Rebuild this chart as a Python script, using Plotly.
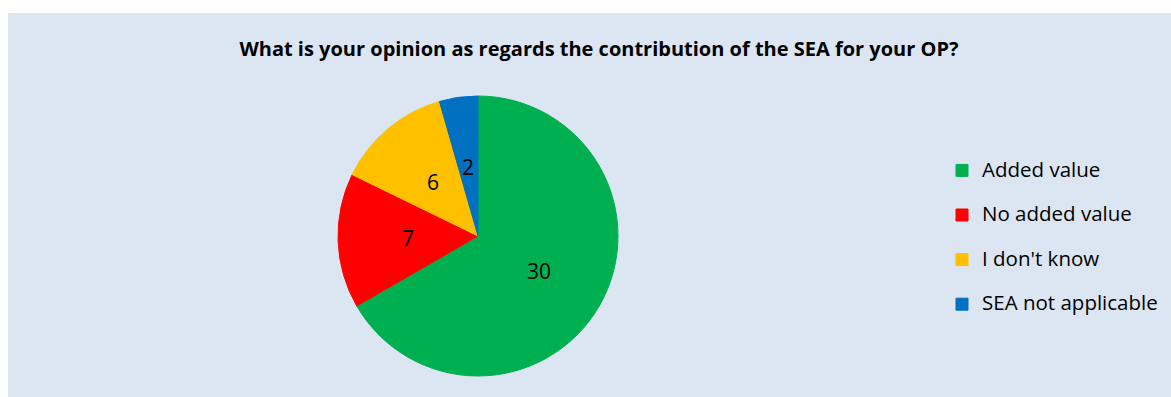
import math
import plotly.graph_objects as go

categories = ["Added value", "No added value", "I don't know", "SEA not applicable"]
values = [30, 7, 6, 2]
colors = ["#00b050", "#ff0000", "#ffc000", "#0070c0"]
title_text = "What is your opinion as regards the contribution of the SEA for your OP?"

W, H = 1171, 397
FONT = "Open Sans"

# pie geometry (pixels)
CX, CY, R = 478, 236, 140

legend_labels = ["<span style='font-size:20.5px'>%s</span><br>&nbsp;" % c for c in categories]

fig = go.Figure(go.Pie(
    labels=legend_labels,
    values=values,
    sort=False,
    direction="clockwise",
    rotation=0,
    marker=dict(colors=colors, line=dict(color=colors, width=1)),
    textinfo="none",
    hoverinfo="skip",
    domain=dict(x=[(CX - R) / W, (CX + R) / W], y=[1 - (CY + R) / H, 1 - (CY - R) / H]),
))

# data labels at half radius on each slice bisector (derived from the values)
total = sum(values)
annotations = []
cum = 0
for v in values:
    mid = (cum + v / 2) / total * 2 * math.pi
    cum += v
    px = CX + 0.5 * R * math.sin(mid)
    py = CY - 0.5 * R * math.cos(mid)
    annotations.append(dict(x=px / W, y=1 - py / H, xref="paper", yref="paper",
                            text=str(v), showarrow=False, xanchor="center", yanchor="middle",
                            font=dict(family=FONT, size=21, color="black")))

fig.update_layout(
    width=W, height=H,
    margin=dict(l=0, r=0, t=0, b=0),
    paper_bgcolor="white",
    font=dict(family=FONT, color="black"),
    title=dict(text="<b>%s</b>" % title_text, x=599 / W, xanchor="center",
               y=1 - 49 / H, yanchor="middle",
               font=dict(family=FONT, size=20, color="black")),
    showlegend=True,
    legend=dict(x=942 / W, xanchor="left", y=1 - 153.5 / H, yanchor="top",
                font=dict(family=FONT, size=16, color="black"),
                bgcolor="rgba(0,0,0,0)", valign="top"),
    annotations=annotations,
    shapes=[dict(type="rect", xref="paper", yref="paper", x0=8 / W, x1=1, y0=0, y1=1 - 13 / H,
                 fillcolor="#dce6f2", line=dict(width=0), layer="below")],
)

fig.write_html("out.html")
